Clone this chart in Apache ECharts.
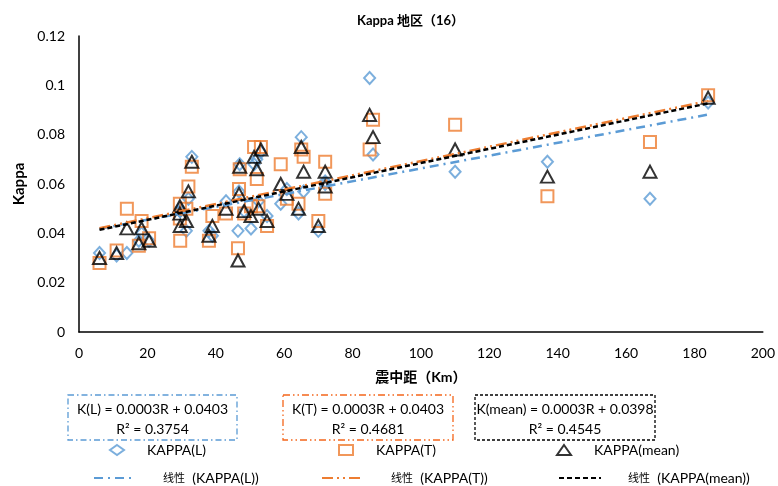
<!DOCTYPE html>
<html><head><meta charset="utf-8">
<script src="https://cdn.jsdelivr.net/npm/echarts@6/dist/echarts.min.js"></script>
<style>html,body{margin:0;padding:0;background:#fff}#c{width:778px;height:486px}</style>
</head><body><div id="c"></div>
<script>
const titleText = 'Kappa 地区（16）';
const xTicks = [0, 20, 40, 60, 80, 100, 120, 140, 160, 180, 200];
const yTicks = [0, 0.02, 0.04, 0.06, 0.08, 0.1, 0.12];
const distance = [6,11,14,17.5,18.3,20.5,29.5,29.5,29.6,31.4,32,33,38,39,43,46.8,47,46.5,48.3,50.3,51.2,52,52.5,53.2,55,59,60.8,64.2,65,65.7,70,72,72,85,86,110,137,167,184];
const kappaL = [0.032,0.031,0.032,0.037,0.040,0.037,0.050,0.049,0.049,0.041,0.054,0.071,0.041,0.039,0.053,0.057,0.068,0.041,0.049,0.042,0.068,0.070,0.053,0.073,0.047,0.052,0.058,0.048,0.079,0.057,0.041,0.060,0.061,0.103,0.072,0.065,0.069,0.054,0.093];
const kappaT = [0.028,0.033,0.050,0.035,0.045,0.038,0.052,0.046,0.037,0.050,0.059,0.067,0.037,0.047,0.048,0.058,0.066,0.034,0.048,0.051,0.075,0.062,0.051,0.075,0.043,0.068,0.054,0.052,0.074,0.071,0.045,0.069,0.056,0.074,0.086,0.084,0.055,0.077,0.096];
const kappaM = [0.030,0.032,0.042,0.036,0.042,0.037,0.051,0.048,0.043,0.045,0.057,0.069,0.039,0.043,0.050,0.056,0.067,0.029,0.049,0.047,0.071,0.066,0.050,0.074,0.045,0.060,0.056,0.050,0.075,0.065,0.043,0.065,0.059,0.088,0.079,0.074,0.063,0.065,0.095];
const seriesNames = ['KAPPA(L)', 'KAPPA(T)', 'KAPPA(mean)'];
const trendNames = ['线性 (KAPPA(L))', '线性 (KAPPA(T))', '线性 (KAPPA(mean))'];
const trendSlope = [0.00026, 0.00029, 0.000288];
const trendIntercept = [0.0403, 0.0403, 0.0397];
const trendRange = [6, 184];
const eqLine1 = ['K(L) = 0.0003R + 0.0403', 'K(T) = 0.0003R + 0.0403', 'K(mean) = 0.0003R + 0.0398'];
const eqLine2 = ['R² = 0.3754', 'R² = 0.4681', 'R² = 0.4545'];

const FONT = 'Lato, "Noto Sans CJK SC", sans-serif';
const colors = ['#5B9BD5', '#ED7D31', '#000000'];
const boxColors = ['#5B9BD5', '#F4661B', '#000000'];
const symbols = ['diamond', 'rect', 'triangle'];
const symSizes = [[11, 12], [12, 12], [13, 12]];
const dashes = [[9, 5, 2, 5], [11, 4, 2, 4, 2, 4], [5, 3]];
const values = [kappaL, kappaT, kappaM];

const chart = echarts.init(document.getElementById('c'), null, {renderer: 'canvas'});
const series = [];
values.forEach((v, i) => {
  series.push({
    name: seriesNames[i], type: 'scatter', symbol: symbols[i], symbolSize: symSizes[i],
    data: distance.map((d, j) => [d, v[j]]),
    itemStyle: {color: 'rgba(255,255,255,0)', borderColor: colors[i], borderWidth: 2},
    z: 3 + i
  });
});
values.forEach((v, i) => {
  series.push({
    name: trendNames[i], type: 'line', symbol: 'circle', showSymbol: false, silent: true,
    data: trendRange.map(x => [x, trendIntercept[i] + trendSlope[i] * x]),
    itemStyle: {color: colors[i]},
    lineStyle: {color: colors[i], width: 2.5, type: dashes[i]},
    z: 10 + i
  });
});

const legends = [];
const legPos1 = [104, 333, 551];
const legPos2 = [88, 316, 553];
seriesNames.forEach((n, i) => legends.push({
  data: [n], left: legPos1[i], top: 438, itemWidth: 14, itemHeight: 10,
  textStyle: {fontFamily: FONT, fontSize: 14, color: '#000', padding: [0, 0, 0, 18]}
}));
trendNames.forEach((n, i) => legends.push({
  data: [n], left: legPos2[i], top: 466, itemWidth: 42, itemHeight: 10,
  itemStyle: {opacity: 0},
  formatter: s => s.replace('线性 ', '{s|}{c|线性}  '),
  textStyle: {fontFamily: FONT, fontSize: 14, color: '#000',
    rich: {s: {width: 22}, c: {fontSize: 11, fontFamily: '"Noto Sans CJK SC"'}}}
}));

const boxes = [[68, 395, 169, 45], [283, 395, 170, 45], [475, 395, 180, 45]];
const graphic = [];
boxes.forEach((b, i) => {
  graphic.push({type: 'rect', shape: {x: b[0], y: b[1], width: b[2], height: b[3]},
    style: {fill: 'none', stroke: boxColors[i], lineWidth: 1.3, lineDash: i === 2 ? [3, 2] : (i === 1 ? [7, 3, 1.5, 3, 1.5, 3] : [6, 3, 1.5, 3])}});
  graphic.push({type: 'text', x: b[0] + b[2] / 2, y: b[1] + 14,
    style: {text: eqLine1[i], font: '14px ' + FONT, fill: '#000', textAlign: 'center', textVerticalAlign: 'middle'}});
  graphic.push({type: 'text', x: b[0] + b[2] / 2, y: b[1] + 34,
    style: {text: eqLine2[i], font: '14px ' + FONT, fill: '#000', textAlign: 'center', textVerticalAlign: 'middle'}});
});

chart.setOption({
  animation: false,
  backgroundColor: '#fff',
  title: {text: titleText, left: 352, top: 9,
    textStyle: {fontFamily: FONT, fontSize: 13, fontWeight: 'bold', color: '#000'}},
  grid: {left: 79, right: 11, top: 36, bottom: 154, containLabel: false},
  xAxis: {type: 'value', min: xTicks[0], max: xTicks[xTicks.length - 1], interval: xTicks[1] - xTicks[0],
    name: '震中距（Km）', nameLocation: 'middle', nameGap: 38,
    nameTextStyle: {fontFamily: FONT, fontSize: 14, fontWeight: 'bold', color: '#000'},
    axisLine: {lineStyle: {color: '#000', width: 1.5}}, axisTick: {show: false},
    axisLabel: {fontFamily: FONT, fontSize: 14, color: '#000', margin: 14}, splitLine: {show: false}},
  yAxis: {type: 'value', min: yTicks[0], max: yTicks[yTicks.length - 1], interval: 0.02,
    name: 'Kappa', nameLocation: 'middle', nameGap: 52,
    nameTextStyle: {fontFamily: FONT, fontSize: 15, fontWeight: 'bold', color: '#000'},
    axisLine: {show: true, lineStyle: {color: '#000', width: 1.5}}, axisTick: {show: false},
    axisLabel: {fontFamily: FONT, fontSize: 14, color: '#000', margin: 14}, splitLine: {show: false}},
  legend: legends,
  series: series,
  graphic: graphic
});
</script></body></html>
